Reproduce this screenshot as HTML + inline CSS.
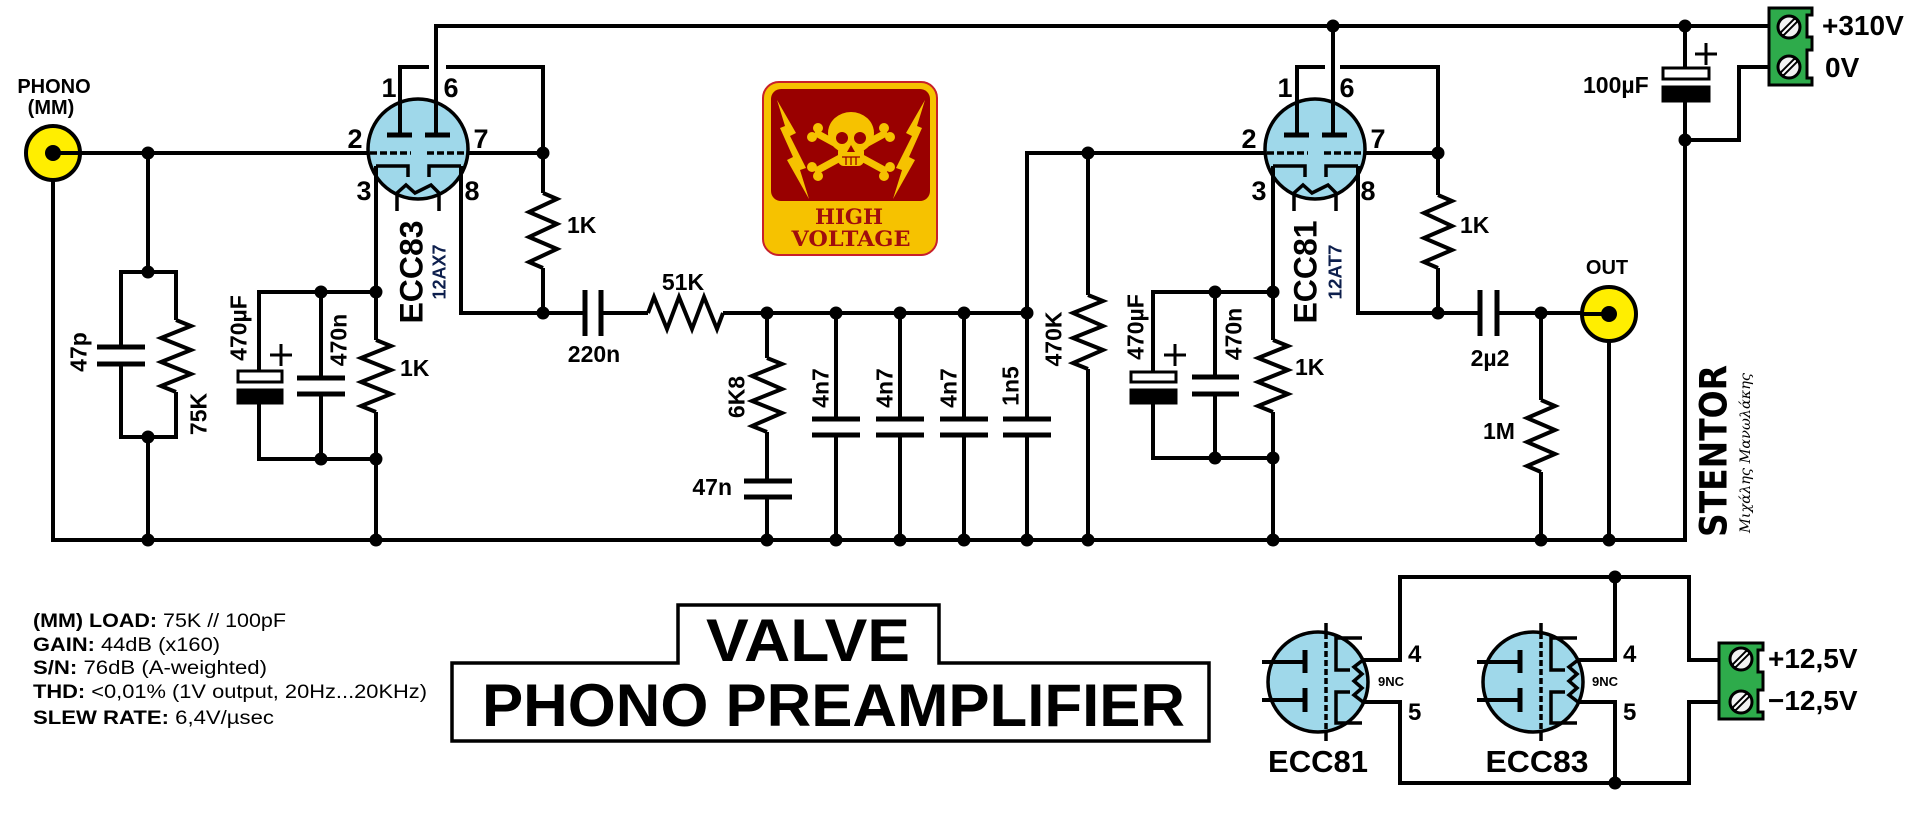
<!DOCTYPE html>
<html><head><meta charset="utf-8">
<style>
html,body{margin:0;padding:0;background:#fff;width:1920px;height:833px;overflow:hidden}
svg{display:block}
text{font-family:"Liberation Sans",Arial,sans-serif;font-weight:bold;fill:#000}
</style></head><body>
<svg width="1920" height="833" viewBox="0 0 1920 833" xmlns="http://www.w3.org/2000/svg">
<rect width="1920" height="833" fill="#fff"/>

<!-- tube bodies -->
<g fill="#9fd8ea" stroke="#000" stroke-width="3.5">
<circle cx="418" cy="149" r="50"/>
<circle cx="1315" cy="149" r="50"/>
<circle cx="1318" cy="682" r="50"/>
<circle cx="1533" cy="682" r="50"/>
</g>

<!-- wires -->
<g fill="none" stroke="#000" stroke-width="4" stroke-linejoin="miter">
<!-- B+ rail & tube1 anodes -->
<path d="M436,135 V26 H1770"/>
<path d="M400,135 V67 H429"/>
<path d="M446,67 H543 V193"/>
<path d="M543,268 V313"/>
<!-- input -->
<path d="M53,153 H369"/>
<path d="M467,153 H543"/>
<!-- input load -->
<path d="M148,153 V272"/>
<path d="M121,347 V272 H176 V320"/>
<path d="M176,392 V437 H121 V364"/>
<path d="M148,437 V540"/>
<!-- tube1 cathode -->
<path d="M376,166 V340"/>
<path d="M376,412 V540"/>
<path d="M376,292 H259 V371"/>
<path d="M259,403 V459 H376"/>
<path d="M321,292 V378"/>
<path d="M321,394 V459"/>
<!-- tube1 pin 8 -->
<path d="M461,166 V313 H585"/>
<path d="M601,313 H648"/>
<path d="M723,313 H1027"/>
<!-- filter -->
<path d="M767,313 V358"/>
<path d="M767,432 V481"/>
<path d="M767,497 V540"/>
<path d="M836,313 V419"/><path d="M836,435 V540"/>
<path d="M900,313 V419"/><path d="M900,435 V540"/>
<path d="M964,313 V419"/><path d="M964,435 V540"/>
<path d="M1265,153 H1027 V419"/><path d="M1027,435 V540"/>
<path d="M1088,153 V295"/><path d="M1088,369 V540"/>
<!-- tube2 -->
<path d="M1297,135 V67 H1325"/>
<path d="M1340,67 H1438 V195"/>
<path d="M1438,268 V313"/>
<path d="M1333,135 V26"/>
<path d="M1365,153 H1438"/>
<path d="M1273,166 V340"/>
<path d="M1273,412 V540"/>
<path d="M1273,292 H1153 V372"/>
<path d="M1153,403 V458 H1273"/>
<path d="M1215,292 V377"/>
<path d="M1215,394 V458"/>
<path d="M1358,166 V313 H1480"/>
<path d="M1497,313 H1609"/>
<path d="M1541,313 V400"/>
<path d="M1541,472 V540"/>
<path d="M1609,314 V540"/>
<!-- ground rail -->
<path d="M53,153 V540 H1685 V101"/>
<path d="M1685,26 V68"/>
<path d="M1685,140 H1739 V67 H1770"/>
<!-- heater section -->
<path d="M1363,660 H1400 V577 H1689 V660 H1720"/>
<path d="M1363,702 H1400 V783 H1689 V702 H1720"/>
<path d="M1578,660 H1615 V577"/>
<path d="M1578,702 H1615 V783"/>
<!-- resistors -->
<polyline points="176,320 191,326 161,338 191,350 161,362 191,374 161,386 176,392"/>
<polyline points="376,340 391,346 361,358 391,370 361,382 391,394 361,406 376,412"/>
<polyline points="543,193 557,199 529,212 557,224 529,237 557,249 529,262 543,268"/>
<polyline points="767,358 782,364 752,376 782,389 752,401 782,413 752,426 767,432"/>
<polyline points="1088,295 1103,301 1073,313 1103,326 1073,338 1103,350 1073,363 1088,369"/>
<polyline points="1438,195 1452,201 1424,213 1452,226 1424,238 1452,250 1424,262 1438,268"/>
<polyline points="1273,340 1288,346 1258,358 1288,370 1258,382 1288,394 1258,406 1273,412"/>
<polyline points="1541,400 1555,406 1527,418 1555,430 1527,442 1555,454 1527,466 1541,472"/>
<polyline points="648,313 654,297 667,329 679,297 692,329 704,297 717,329 723,313"/>
</g>

<!-- capacitor plates -->
<g stroke="#000" stroke-width="5" fill="none">
<path d="M97,347 H145 M97,364 H145"/>
<path d="M297,378 H345 M297,394 H345"/>
<path d="M585,290 V336 M601,290 V336"/>
<path d="M744,481 H792 M744,497 H792"/>
<path d="M812,419 H860 M812,435 H860"/>
<path d="M876,419 H924 M876,435 H924"/>
<path d="M940,419 H988 M940,435 H988"/>
<path d="M1003,419 H1051 M1003,435 H1051"/>
<path d="M1192,377 H1239 M1192,394 H1239"/>
<path d="M1480,290 V336 M1497,290 V336"/>
</g>
<!-- electrolytics -->
<g stroke="#000" stroke-width="3">
<rect x="238" y="371" width="44" height="11" fill="#fff"/>
<rect x="238" y="390" width="44" height="13" fill="#000"/>
<rect x="1131" y="372" width="45" height="10" fill="#fff"/>
<rect x="1131" y="390" width="45" height="13" fill="#000"/>
<rect x="1663" y="68" width="46" height="11" fill="#fff"/>
<rect x="1663" y="87" width="46" height="14" fill="#000"/>
<path d="M270,355 H292 M281,344 V366 M1164,355 H1186 M1175,344 V366 M1695,54 H1717 M1706,43 V65" fill="none"/>
</g>

<!-- tube internals -->
<g fill="none" stroke="#000" stroke-width="3.5">
<path d="M387,135 H412 M425,135 H450 M1284,135 H1309 M1322,135 H1347" stroke-width="5"/>
<path d="M370,153 H411 M427,153 H467 M1267,153 H1308 M1324,153 H1364" stroke-dasharray="7 3"/>
<path d="M376,166 H408 V177 M461,166 H429 V177"/>
<path d="M1273,166 H1305 V177 M1358,166 H1326 V177"/>
<path d="M397,211 V193 L406,185 L415,193 L431,185 L439,193 V211"/>
<path d="M1294,211 V193 L1303,185 L1312,193 L1328,185 L1336,193 V211"/>
<!-- small tubes -->
<path d="M1326,623 V633 M1326,731 V741 M1541,623 V633 M1541,731 V741"/>
<path d="M1326,633 V731 M1541,633 V731" stroke-dasharray="6 3"/>
<path d="M1305,650 V673 M1305,688 V712 M1520,650 V673 M1520,688 V712" stroke-width="5"/>
<path d="M1262,662 H1305 M1262,700 H1305 M1477,662 H1520 M1477,700 H1520" stroke-width="4"/>
<path d="M1362,638 H1336 V670 H1350 M1350,692 H1336 V723 H1362"/>
<path d="M1577,638 H1551 V670 H1565 M1565,692 H1551 V723 H1577"/>
<path d="M1363,660 L1354,667 L1362,674 L1354,681 L1362,688 L1354,695 L1363,702"/>
<path d="M1578,660 L1569,667 L1577,674 L1569,681 L1577,688 L1569,695 L1578,702"/>
</g>

<!-- jacks -->
<g stroke="#000" stroke-width="4">
<circle cx="53" cy="153" r="27" fill="#ffee00"/>
<circle cx="1609" cy="314" r="27" fill="#ffee00"/>
<path d="M53,153 H80 M1582,314 H1609" fill="none"/>
</g>
<circle cx="53" cy="153" r="8" fill="#000"/>
<circle cx="1609" cy="314" r="8" fill="#000"/>

<!-- junction dots -->
<g fill="#000">
<circle cx="148" cy="153" r="6.5"/><circle cx="543" cy="153" r="6.5"/>
<circle cx="148" cy="272" r="6.5"/><circle cx="148" cy="437" r="6.5"/><circle cx="148" cy="540" r="6.5"/>
<circle cx="321" cy="292" r="6.5"/><circle cx="376" cy="292" r="6.5"/>
<circle cx="321" cy="459" r="6.5"/><circle cx="376" cy="459" r="6.5"/><circle cx="376" cy="540" r="6.5"/>
<circle cx="543" cy="313" r="6.5"/><circle cx="767" cy="313" r="6.5"/><circle cx="836" cy="313" r="6.5"/>
<circle cx="900" cy="313" r="6.5"/><circle cx="964" cy="313" r="6.5"/><circle cx="1027" cy="313" r="6.5"/>
<circle cx="767" cy="540" r="6.5"/><circle cx="836" cy="540" r="6.5"/><circle cx="900" cy="540" r="6.5"/>
<circle cx="964" cy="540" r="6.5"/><circle cx="1027" cy="540" r="6.5"/>
<circle cx="1088" cy="153" r="6.5"/><circle cx="1088" cy="540" r="6.5"/>
<circle cx="1215" cy="292" r="6.5"/><circle cx="1273" cy="292" r="6.5"/>
<circle cx="1215" cy="458" r="6.5"/><circle cx="1273" cy="458" r="6.5"/><circle cx="1273" cy="540" r="6.5"/>
<circle cx="1438" cy="153" r="6.5"/><circle cx="1438" cy="313" r="6.5"/>
<circle cx="1541" cy="313" r="6.5"/><circle cx="1541" cy="540" r="6.5"/><circle cx="1609" cy="540" r="6.5"/>
<circle cx="1333" cy="26" r="6.5"/><circle cx="1685" cy="26" r="6.5"/><circle cx="1685" cy="140" r="6.5"/>
<circle cx="1615" cy="577" r="6.5"/><circle cx="1615" cy="783" r="6.5"/>
</g>

<!-- terminal blocks -->
<g stroke="#000" stroke-width="3">
<path d="M1769,8 H1812 V15 H1807 V37 H1812 V50 H1807 V78 H1812 V85 H1769 Z" fill="#2eab4b"/>
<path d="M1719,643 H1763 V650 H1758 V672 H1763 V690 H1758 V712 H1763 V719 H1719 Z" fill="#2eab4b"/>
<circle cx="1789" cy="27" r="11" fill="#f2f2f2"/>
<circle cx="1789" cy="67" r="11" fill="#f2f2f2"/>
<circle cx="1741" cy="659" r="11" fill="#f2f2f2"/>
<circle cx="1741" cy="702" r="11" fill="#f2f2f2"/>
</g>
<g stroke-linecap="round">
<g stroke="#000" stroke-width="6">
<path d="M1783,33 L1795,21 M1783,73 L1795,61 M1735,665 L1747,653 M1735,708 L1747,696"/>
</g>
<g stroke="#fff" stroke-width="2">
<path d="M1783,33 L1795,21 M1783,73 L1795,61 M1735,665 L1747,653 M1735,708 L1747,696"/>
</g>
</g>

<!-- high voltage sign -->
<rect x="763" y="82" width="174" height="173" rx="16" fill="#f6c200" stroke="#c8202a" stroke-width="2"/>
<rect x="771" y="89" width="159" height="112" rx="10" fill="#990000"/>
<g fill="#f6c200">
<polygon points="777,100 796,133 790,136 806,168 800,170 809,199 787,160 793,157 780,128 785,126"/>
<polygon points="925,100 906,133 912,136 896,168 902,170 893,199 915,160 909,157 922,128 917,126"/>
<g stroke="#f6c200" stroke-width="7" stroke-linecap="round">
<path d="M818,134 L884,170 M884,134 L818,170"/>
</g>
<circle cx="812" cy="137" r="5"/><circle cx="818" cy="128" r="5"/>
<circle cx="890" cy="137" r="5"/><circle cx="884" cy="128" r="5"/>
<circle cx="812" cy="167" r="5"/><circle cx="818" cy="176" r="5"/>
<circle cx="890" cy="167" r="5"/><circle cx="884" cy="176" r="5"/>
<ellipse cx="851" cy="133" rx="23" ry="21"/>
<rect x="838" y="146" width="26" height="20" rx="6"/>
</g>
<g fill="#990000">
<circle cx="842" cy="138" r="6"/><circle cx="860" cy="138" r="6"/>
<polygon points="851,145 847,152 855,152"/>
<path d="M842,157 H860 M846,157 V165 M851,157 V165 M856,157 V165" stroke="#990000" stroke-width="1.3" fill="none"/>
</g>
<text x="849" y="224" text-anchor="middle" font-family="DejaVu Serif,Liberation Serif,serif" font-size="21" textLength="68" lengthAdjust="spacingAndGlyphs" style="font-family:'DejaVu Serif','Liberation Serif',serif;fill:#a00d0d">HIGH</text>
<text x="851" y="246" text-anchor="middle" font-size="21" textLength="119" lengthAdjust="spacingAndGlyphs" style="font-family:'DejaVu Serif','Liberation Serif',serif;fill:#a00d0d">VOLTAGE</text>

<!-- title box -->
<path d="M452,663 H678 V605 H939 V663 H1209 V741 H452 Z" fill="#fff" stroke="#000" stroke-width="3.5"/>
<text x="706" y="661" font-size="60" textLength="204" lengthAdjust="spacingAndGlyphs">VALVE</text>
<text x="482" y="726" font-size="60" textLength="703" lengthAdjust="spacingAndGlyphs">PHONO PREAMPLIFIER</text>

<!-- specs -->
<g font-size="19">
<text x="33" y="627" textLength="253" lengthAdjust="spacingAndGlyphs">(MM) LOAD: <tspan style="font-weight:normal">75K // 100pF</tspan></text>
<text x="33" y="651" textLength="187" lengthAdjust="spacingAndGlyphs">GAIN: <tspan style="font-weight:normal">44dB (x160)</tspan></text>
<text x="33" y="674" textLength="234" lengthAdjust="spacingAndGlyphs">S/N: <tspan style="font-weight:normal">76dB (A-weighted)</tspan></text>
<text x="33" y="698" textLength="394" lengthAdjust="spacingAndGlyphs">THD: <tspan style="font-weight:normal">&lt;0,01% (1V output, 20Hz...20KHz)</tspan></text>
<text x="33" y="724" textLength="241" lengthAdjust="spacingAndGlyphs">SLEW RATE: <tspan style="font-weight:normal">6,4V/µsec</tspan></text>
</g>

<!-- labels -->
<g font-size="20" text-anchor="middle">
<text x="54" y="93">PHONO</text>
<text x="51" y="114">(MM)</text>
<text x="1607" y="274">OUT</text>
</g>
<g font-size="27" text-anchor="middle">
<text x="389" y="97">1</text><text x="451" y="97">6</text>
<text x="355" y="148">2</text><text x="481" y="148">7</text>
<text x="364" y="200">3</text><text x="472" y="200">8</text>
<text x="1285" y="97">1</text><text x="1347" y="97">6</text>
<text x="1249" y="148">2</text><text x="1378" y="148">7</text>
<text x="1259" y="200">3</text><text x="1368" y="200">8</text>
</g>
<g font-size="23">
<text x="567" y="233">1K</text>
<text x="400" y="376">1K</text>
<text x="594" y="362" text-anchor="middle">220n</text>
<text x="683" y="290" text-anchor="middle">51K</text>
<text x="732" y="495" text-anchor="end">47n</text>
<text x="1460" y="233">1K</text>
<text x="1295" y="375">1K</text>
<text x="1490" y="366" text-anchor="middle">2µ2</text>
<text x="1483" y="439">1M</text>
<text x="1583" y="93">100µF</text>
</g>
<g font-size="23" text-anchor="middle">
<text transform="translate(78,352) rotate(-90)" dy="0.36em">47p</text>
<text transform="translate(198,414) rotate(-90)" dy="0.36em">75K</text>
<text transform="translate(238,328) rotate(-90)" dy="0.36em">470µF</text>
<text transform="translate(338,340) rotate(-90)" dy="0.36em">470n</text>
<text transform="translate(736,397) rotate(-90)" dy="0.36em">6K8</text>
<text transform="translate(820,388) rotate(-90)" dy="0.36em">4n7</text>
<text transform="translate(884,388) rotate(-90)" dy="0.36em">4n7</text>
<text transform="translate(948,388) rotate(-90)" dy="0.36em">4n7</text>
<text transform="translate(1010,386) rotate(-90)" dy="0.36em">1n5</text>
<text transform="translate(1053,339) rotate(-90)" dy="0.36em">470K</text>
<text transform="translate(1135,327) rotate(-90)" dy="0.36em">470µF</text>
<text transform="translate(1233,334) rotate(-90)" dy="0.36em">470n</text>
</g>
<g text-anchor="middle">
<text transform="translate(411,272) rotate(-90)" dy="0.36em" font-size="32" textLength="103" lengthAdjust="spacingAndGlyphs">ECC83</text>
<text transform="translate(439,272) rotate(-90)" dy="0.36em" font-size="18" style="fill:#0d1f4d" textLength="55" lengthAdjust="spacingAndGlyphs">12AX7</text>
<text transform="translate(1305,272) rotate(-90)" dy="0.36em" font-size="32" textLength="103" lengthAdjust="spacingAndGlyphs">ECC81</text>
<text transform="translate(1335,272) rotate(-90)" dy="0.36em" font-size="18" style="fill:#0d1f4d" textLength="55" lengthAdjust="spacingAndGlyphs">12AT7</text>
</g>
<g font-size="28">
<text x="1822" y="35">+310V</text>
<text x="1825" y="77">0V</text>
<text x="1768" y="668">+12,5V</text>
<text x="1768" y="710">−12,5V</text>
</g>
<!-- bottom tube labels -->
<g font-size="13" text-anchor="middle">
<text x="1391" y="686">9NC</text>
<text x="1605" y="686">9NC</text>
</g>
<g font-size="24">
<text x="1408" y="662">4</text><text x="1408" y="720">5</text>
<text x="1623" y="662">4</text><text x="1623" y="720">5</text>
</g>
<g font-size="31" text-anchor="middle">
<text x="1318" y="772" textLength="100" lengthAdjust="spacingAndGlyphs">ECC81</text>
<text x="1537" y="772" textLength="103" lengthAdjust="spacingAndGlyphs">ECC83</text>
</g>

<!-- STENTOR logo -->
<text transform="translate(1713,451) rotate(-90)" dy="0.36em" text-anchor="middle" font-size="37" textLength="172" lengthAdjust="spacingAndGlyphs" style="font-family:'DejaVu Sans','Liberation Sans',sans-serif;font-weight:900">STENTOR</text>
<text transform="translate(1745,453) rotate(-90)" dy="0.36em" text-anchor="middle" font-size="14" textLength="160" lengthAdjust="spacingAndGlyphs" style="font-family:'DejaVu Serif','Liberation Serif',serif;font-weight:normal;font-style:italic">Μιχάλης Μανωλάκης</text>
</svg>
</body></html>
